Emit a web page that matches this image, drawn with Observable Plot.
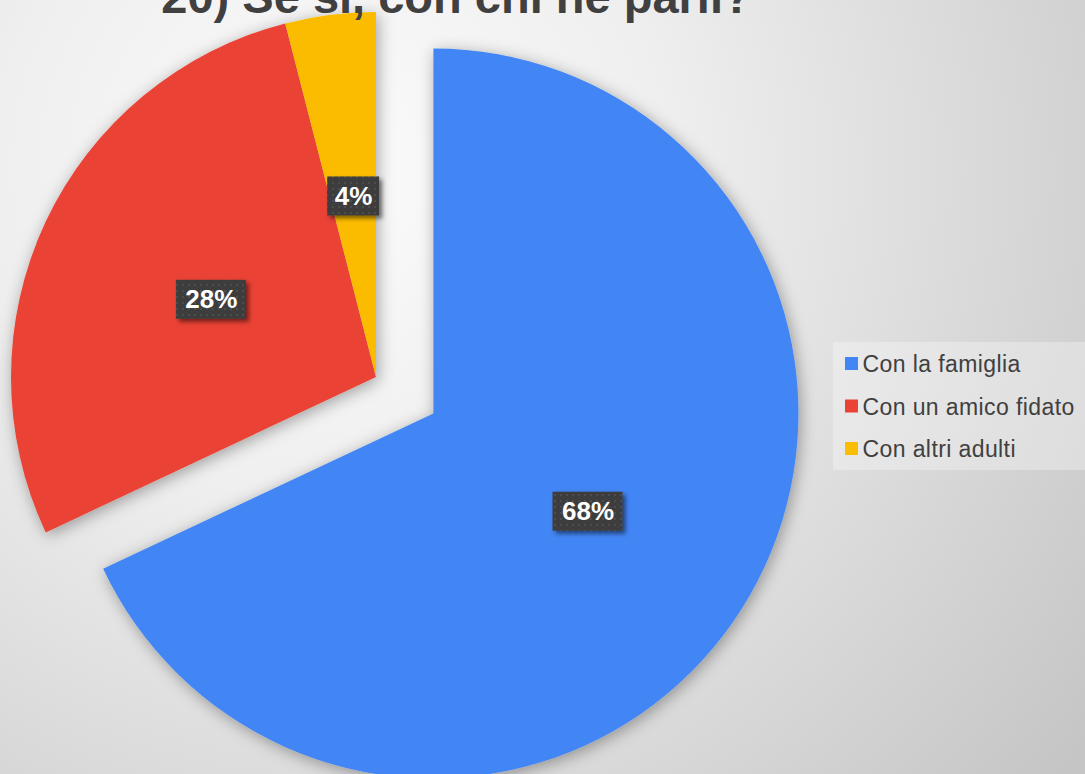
<!DOCTYPE html>
<html>
<head>
<meta charset="utf-8">
<script src="https://cdn.jsdelivr.net/npm/d3@7"></script>
<script src="https://cdn.jsdelivr.net/npm/@observablehq/plot@0.6"></script>
<style>
html, body { margin: 0; padding: 0; width: 1085px; height: 774px; overflow: hidden; }
#chart {
  position: relative; width: 1085px; height: 774px;
  background: radial-gradient(circle 950px at 330px 170px, #fbfbfb 0%, #efefef 35%, #c5c5c5 100%);
  font-family: "Liberation Sans", Arial, sans-serif;
}
#chart svg { display: block; }
</style>
</head>
<body>
<div id="chart"></div>
<script>
// ---- data ----
const title = "20) Se sì, con chi ne parli?";
const categories = ["Con la famiglia", "Con un amico fidato", "Con altri adulti"];
const values = [68, 28, 4];
const labels = ["68%", "28%", "4%"];
const colors = ["#4285f4", "#ea4335", "#fbbc04"];

// ---- layout ----
const W = 1085, H = 774;
const cx = 376, cy = 377, R = 365;
const explodedIndex = 0, explodeOffset = 68;

const data = categories.map((c, i) => ({category: c, value: values[i], label: labels[i]}));
const pie = d3.pie().sort(null).value(d => d.value)(data);
const arcGen = d3.arc().innerRadius(0).outerRadius(R);

const slices = pie.map((p, i) => {
  const mid = (p.startAngle + p.endAngle) / 2;
  const off = i === explodedIndex ? explodeOffset : 0;
  const ox = cx + off * Math.sin(mid), oy = cy - off * Math.cos(mid);
  const c = arcGen.centroid(p);
  return {...p, ox, oy, lx: ox + c[0], ly: oy + c[1], category: p.data.category, label: p.data.label};
});

const boxW = d => 18 * d.label.length + 16;
const boxH = 39;

const legendX = 845, legendY0 = 363.5, legendStep = 42.5, sq = 13;
const legendData = categories.map((c, i) => ({category: c, i}));

function slicesMark(index, scales) {
  const g = d3.create("svg:g").attr("filter", "url(#pieShadow)");
  g.selectAll("path").data(slices).join("path")
    .attr("transform", d => `translate(${scales.x(d.ox)},${scales.y(d.oy)})`)
    .attr("d", arcGen)
    .attr("fill", d => scales.color ? scales.color(d.category) : colors[d.index]);
  return g.node();
}

const svg = Plot.plot({
  width: W, height: H, margin: 0,
  style: {background: "transparent", fontFamily: "'Liberation Sans', Arial, sans-serif"},
  x: {domain: [0, W], range: [0, W], axis: null},
  y: {domain: [0, H], range: [0, H], axis: null},
  color: {type: "ordinal", domain: categories, range: colors},
  marks: [
    slicesMark,
    Plot.rect(slices, {
      x1: d => d.lx - boxW(d) / 2, x2: d => d.lx + boxW(d) / 2,
      y1: d => d.ly - boxH / 2, y2: d => d.ly + boxH / 2,
      fill: "url(#dots)", ariaDescription: "labelbox"
    }),
    Plot.text(slices, {
      x: "lx", y: "ly", text: "label", fill: "white",
      fontSize: 26, fontWeight: "bold", textAnchor: "middle", lineAnchor: "middle"
    }),
    Plot.text([title], {
      x: 456, y: 12, text: d => d, fill: "#404040",
      fontSize: 47, fontWeight: "bold", textAnchor: "middle", lineAnchor: "bottom"
    }),
    Plot.rect([0], {x1: 833, x2: 1090, y1: 342, y2: 470, fill: "white", fillOpacity: 0.3}),
    Plot.rect(legendData, {
      x1: legendX, x2: legendX + sq,
      y1: d => legendY0 + d.i * legendStep - sq / 2, y2: d => legendY0 + d.i * legendStep + sq / 2,
      fill: "category"
    }),
    Plot.text(legendData, {
      x: legendX + sq + 4, y: d => legendY0 + d.i * legendStep + 8, text: "category",
      fill: "#404040", fontSize: 23, textAnchor: "start", lineAnchor: "bottom",
      ariaDescription: "legendtext"
    })
  ]
});

const defs = d3.select(svg).insert("defs", ":first-child");
const f = defs.append("filter").attr("id", "pieShadow")
  .attr("x", "-20%").attr("y", "-20%").attr("width", "140%").attr("height", "140%");
f.append("feDropShadow").attr("dx", 2).attr("dy", 3).attr("stdDeviation", 8)
  .attr("flood-color", "#000").attr("flood-opacity", 0.35);
const f2 = defs.append("filter").attr("id", "boxShadow")
  .attr("x", "-30%").attr("y", "-30%").attr("width", "160%").attr("height", "160%");
f2.append("feDropShadow").attr("dx", 3).attr("dy", 3).attr("stdDeviation", 2)
  .attr("flood-color", "#000").attr("flood-opacity", 0.5);
const pat = defs.append("pattern").attr("id", "dots")
  .attr("width", 6).attr("height", 6).attr("patternUnits", "userSpaceOnUse");
pat.append("rect").attr("width", 6).attr("height", 6).attr("fill", "#3d3d3d");
pat.append("rect").attr("x", 2).attr("y", 2).attr("width", 2).attr("height", 2).attr("fill", "#4d4d4d");

d3.select(svg).selectAll("g[aria-description=labelbox]").attr("filter", "url(#boxShadow)");
d3.select(svg).selectAll("g[aria-description=legendtext]").style("letter-spacing", "0.4px");

document.getElementById("chart").appendChild(svg);
</script>
</body>
</html>
